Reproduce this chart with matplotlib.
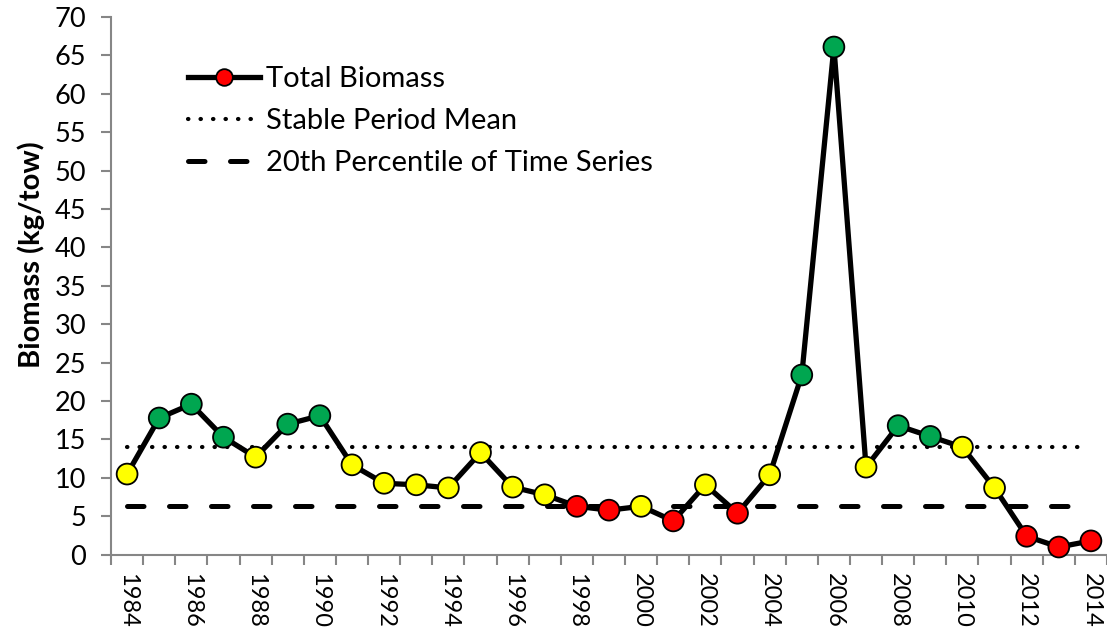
import numpy as np
import matplotlib
matplotlib.use("Agg")
import matplotlib.pyplot as plt
from matplotlib.lines import Line2D

# survey years and total biomass (kg/tow)
years = np.arange(1984, 2015)
biomass = [10.5, 17.8, 19.6, 15.3, 12.7, 17.0, 18.1, 11.7, 9.3, 9.1,
           8.7, 13.3, 8.8, 7.8, 6.3, 5.8, 6.3, 4.4, 9.1, 5.4,
           10.4, 23.4, 66.1, 11.4, 16.8, 15.4, 14.0, 8.7, 2.4, 1.0, 1.8]
# status of each year: g = above mean, y = between, r = below 20th percentile
status = ["y", "g", "g", "g", "y", "g", "g", "y", "y", "y",
          "y", "y", "y", "y", "r", "r", "y", "r", "y", "r",
          "y", "g", "g", "y", "g", "g", "y", "y", "r", "r", "r"]
stable_mean = 14.0
pct20 = 6.3

status_colors = {"g": "#00A650", "y": "#FFFF00", "r": "#FF0000"}

plt.rcParams['font.family'] = ['Lato', 'DejaVu Sans']

fig = plt.figure(figsize=(11.07, 6.32), dpi=100)
ax = fig.add_axes([0.1003, 0.1223, 0.8997, 0.8507])

x = np.arange(len(years))

dot_style = (0, (0.1, 2.9))
dash_style = (0, (3.3, 5.1))

ax.plot([x[0], x[-1] - 0.3], [stable_mean, stable_mean], color="black",
        lw=3, linestyle=dot_style, dash_capstyle="round", zorder=2)
ax.plot([x[0], x[-1] - 0.5], [pct20, pct20], color="black",
        lw=3.6, linestyle=dash_style, dash_capstyle="round", zorder=2)

ax.plot(x, biomass, color="black", lw=3.8, zorder=3)
ax.scatter(x, biomass, s=15 ** 2, c=[status_colors[s] for s in status],
           edgecolors="black", linewidths=1.3, zorder=4, clip_on=False)

ax.set_xlim(-0.5, 30.27)
ax.set_ylim(0, 70)
ax.set_yticks(np.arange(0, 71, 5))

# year labels every other year, tick marks between categories
ax.set_xticks(x[::2])
ax.set_xticklabels([str(y) for y in years[::2]], rotation=-90)
ax.set_xticks(np.arange(-0.5, len(years) + 0.5, 1), minor=True)
ax.tick_params(axis="x", which="major", length=0, pad=13, labelsize=17)
ax.tick_params(axis="x", which="minor", length=7, width=1.5, color="#868686")
ax.tick_params(axis="y", length=7, width=1.5, color="#868686", labelsize=19.5, pad=11)

for side in ["top", "right"]:
    ax.spines[side].set_visible(False)
for side in ["left", "bottom"]:
    ax.spines[side].set_color("#868686")
    ax.spines[side].set_linewidth(1.5)

ax.set_ylabel("Biomass (kg/tow)", fontsize=21, fontweight="bold")
ax.yaxis.set_label_coords(-0.066, 0.558)

handles = [
    Line2D([], [], color="black", lw=3.8, marker="o", markersize=12,
           markerfacecolor="#FF0000", markeredgecolor="black", markeredgewidth=1.3),
    Line2D([], [], color="black", lw=3, linestyle=dot_style, dash_capstyle="round"),
    Line2D([], [], color="black", lw=3.6, linestyle=dash_style, dash_capstyle="round"),
]
labels = ["Total Biomass", "Stable Period Mean", "20th Percentile of Time Series"]
ax.legend(handles, labels, loc="upper left", bbox_to_anchor=(0.066, 0.93),
          frameon=False, fontsize=21, handlelength=2.45, handletextpad=0.2,
          labelspacing=0.55, borderaxespad=0)

fig.savefig("out.png", dpi=100)
